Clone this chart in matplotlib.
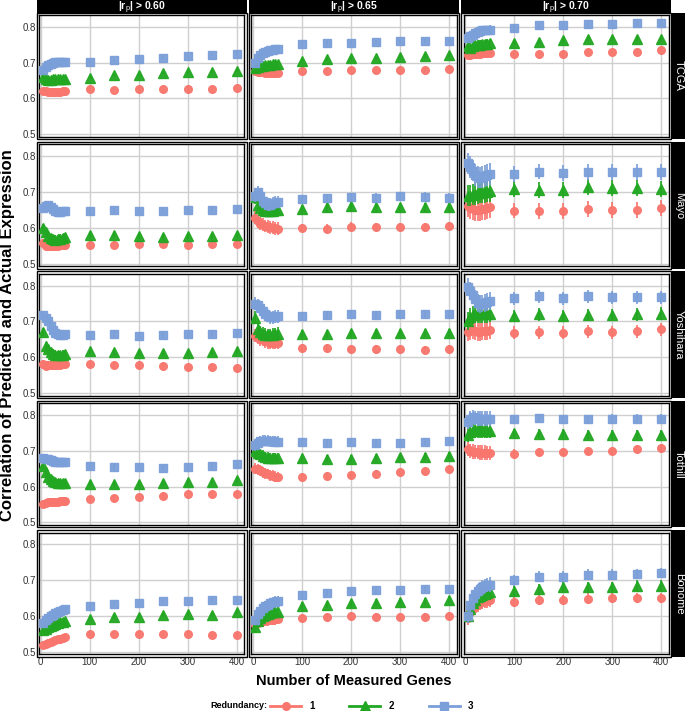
"""
Faceted accuracy plot: correlation of predicted vs actual expression
against number of measured genes, per dataset (rows) and |r_p| cut-off (cols).
"""
import matplotlib
matplotlib.use("Agg")
import matplotlib.pyplot as plt
from matplotlib.lines import Line2D
from matplotlib.patches import Rectangle

plt.rcParams["font.family"] = ["Liberation Sans", "DejaVu Sans"]
plt.rcParams["mathtext.fontset"] = "custom"
plt.rcParams["mathtext.rm"] = "Liberation Sans"
plt.rcParams["mathtext.it"] = "Liberation Sans:italic"
plt.rcParams["mathtext.bf"] = "Liberation Sans:bold"

# ---- data --------------------------------------------------------------------
GENES = [5, 10, 15, 20, 25, 30, 35, 40, 45, 50,
         100, 150, 200, 250, 300, 350, 400]
THRESHOLDS = ["0.60", "0.65", "0.70"]
DATASETS = ["TCGA", "Mayo", "Yoshihara", "Tothill", "Bonome"]
REDUNDANCY = ["1", "2", "3"]

# each threshold -> [redundancy 1, redundancy 2, redundancy 3]
TCGA = {
    "0.60": [[0.622, 0.620, 0.619, 0.619, 0.619, 0.619, 0.619, 0.619, 0.620, 0.620,
              0.625, 0.624, 0.626, 0.626, 0.627, 0.627, 0.628],
             [0.660, 0.655, 0.652, 0.652, 0.653, 0.653, 0.654, 0.655, 0.655, 0.655,
              0.658, 0.664, 0.665, 0.671, 0.673, 0.674, 0.677],
             [0.680, 0.688, 0.693, 0.697, 0.700, 0.702, 0.703, 0.703, 0.703, 0.703,
              0.703, 0.707, 0.711, 0.714, 0.718, 0.722, 0.725]],
    "0.65": [[0.676, 0.675, 0.674, 0.673, 0.672, 0.672, 0.671, 0.671, 0.671, 0.672,
              0.676, 0.676, 0.679, 0.679, 0.679, 0.680, 0.682],
             [0.685, 0.688, 0.690, 0.690, 0.692, 0.693, 0.694, 0.695, 0.696, 0.697,
              0.705, 0.710, 0.712, 0.712, 0.716, 0.718, 0.720],
             [0.700, 0.712, 0.720, 0.726, 0.730, 0.733, 0.735, 0.736, 0.737, 0.738,
              0.751, 0.755, 0.756, 0.757, 0.760, 0.761, 0.761]],
    "0.70": [[0.722, 0.722, 0.724, 0.724, 0.724, 0.725, 0.726, 0.727, 0.727, 0.727,
              0.724, 0.724, 0.725, 0.730, 0.730, 0.731, 0.736],
             [0.745, 0.740, 0.745, 0.748, 0.750, 0.750, 0.752, 0.752, 0.753, 0.754,
              0.756, 0.758, 0.763, 0.766, 0.766, 0.766, 0.767],
             [0.770, 0.775, 0.778, 0.782, 0.785, 0.788, 0.790, 0.790, 0.791, 0.792,
              0.796, 0.805, 0.805, 0.807, 0.808, 0.810, 0.810]],
}
MAYO = {
    "0.60": [[0.557, 0.550, 0.548, 0.548, 0.549, 0.550, 0.550, 0.551, 0.552, 0.553,
              0.552, 0.553, 0.554, 0.554, 0.553, 0.554, 0.555],
             [0.600, 0.588, 0.578, 0.572, 0.568, 0.567, 0.568, 0.570, 0.572, 0.574,
              0.579, 0.580, 0.577, 0.575, 0.577, 0.577, 0.580],
             [0.655, 0.660, 0.663, 0.657, 0.652, 0.648, 0.645, 0.645, 0.646, 0.646,
              0.647, 0.650, 0.647, 0.648, 0.650, 0.651, 0.652]],
    "0.65": [[0.628, 0.618, 0.612, 0.608, 0.605, 0.603, 0.601, 0.600, 0.599, 0.598,
              0.600, 0.598, 0.603, 0.602, 0.602, 0.602, 0.605],
             [0.685, 0.665, 0.655, 0.650, 0.648, 0.647, 0.647, 0.648, 0.649, 0.650,
              0.652, 0.657, 0.660, 0.657, 0.657, 0.657, 0.657],
             [0.690, 0.700, 0.690, 0.675, 0.668, 0.665, 0.665, 0.668, 0.670, 0.672,
              0.680, 0.683, 0.686, 0.684, 0.689, 0.687, 0.684]],
    "0.70": [[0.660, 0.655, 0.652, 0.650, 0.650, 0.650, 0.652, 0.653, 0.655, 0.657,
              0.648, 0.647, 0.647, 0.652, 0.650, 0.650, 0.656],
             [0.690, 0.690, 0.693, 0.695, 0.697, 0.698, 0.700, 0.700, 0.701, 0.702,
              0.708, 0.706, 0.706, 0.713, 0.711, 0.711, 0.709],
             [0.780, 0.770, 0.760, 0.748, 0.742, 0.740, 0.742, 0.745, 0.748, 0.750,
              0.750, 0.757, 0.754, 0.755, 0.755, 0.755, 0.755]],
}
YOSHIHARA = {
    "0.60": [[0.580, 0.576, 0.578, 0.577, 0.578, 0.577, 0.578, 0.579, 0.580, 0.581,
              0.580, 0.578, 0.577, 0.575, 0.573, 0.572, 0.570],
             [0.670, 0.630, 0.622, 0.615, 0.610, 0.607, 0.606, 0.606, 0.607, 0.608,
              0.618, 0.615, 0.612, 0.612, 0.612, 0.615, 0.617],
             [0.718, 0.710, 0.700, 0.688, 0.676, 0.668, 0.665, 0.663, 0.663, 0.665,
              0.661, 0.664, 0.660, 0.662, 0.665, 0.665, 0.668]],
    "0.65": [[0.660, 0.655, 0.650, 0.648, 0.645, 0.642, 0.640, 0.640, 0.640, 0.640,
              0.625, 0.625, 0.622, 0.622, 0.622, 0.620, 0.622],
             [0.710, 0.680, 0.670, 0.665, 0.663, 0.662, 0.662, 0.663, 0.664, 0.665,
              0.665, 0.665, 0.668, 0.668, 0.668, 0.668, 0.668],
             [0.750, 0.745, 0.738, 0.728, 0.720, 0.715, 0.712, 0.712, 0.713, 0.714,
              0.715, 0.718, 0.720, 0.718, 0.720, 0.720, 0.720]],
    "0.70": [[0.670, 0.672, 0.675, 0.672, 0.670, 0.670, 0.672, 0.673, 0.674, 0.675,
              0.668, 0.670, 0.668, 0.672, 0.670, 0.672, 0.678],
             [0.700, 0.712, 0.718, 0.720, 0.720, 0.720, 0.720, 0.720, 0.721, 0.722,
              0.715, 0.720, 0.715, 0.718, 0.718, 0.720, 0.722],
             [0.795, 0.785, 0.775, 0.762, 0.752, 0.748, 0.750, 0.752, 0.755, 0.757,
              0.765, 0.770, 0.765, 0.770, 0.768, 0.768, 0.767]],
}
TOTHILL = {
    "0.60": [[0.552, 0.555, 0.556, 0.557, 0.557, 0.558, 0.558, 0.559, 0.560, 0.560,
              0.565, 0.568, 0.572, 0.575, 0.578, 0.580, 0.580],
             [0.658, 0.640, 0.628, 0.620, 0.615, 0.612, 0.610, 0.610, 0.610, 0.610,
              0.607, 0.608, 0.607, 0.610, 0.612, 0.613, 0.618],
             [0.680, 0.678, 0.676, 0.674, 0.672, 0.670, 0.670, 0.670, 0.670, 0.670,
              0.658, 0.655, 0.655, 0.652, 0.655, 0.657, 0.662]],
    "0.65": [[0.650, 0.648, 0.645, 0.640, 0.637, 0.635, 0.632, 0.630, 0.628, 0.627,
              0.628, 0.630, 0.632, 0.636, 0.640, 0.643, 0.648],
             [0.700, 0.695, 0.690, 0.686, 0.683, 0.681, 0.680, 0.680, 0.680, 0.680,
              0.680, 0.678, 0.678, 0.680, 0.682, 0.683, 0.686],
             [0.715, 0.722, 0.726, 0.728, 0.728, 0.728, 0.727, 0.726, 0.725, 0.725,
              0.725, 0.722, 0.725, 0.722, 0.723, 0.725, 0.728]],
    "0.70": [[0.705, 0.700, 0.698, 0.697, 0.696, 0.695, 0.695, 0.695, 0.694, 0.694,
              0.692, 0.697, 0.697, 0.700, 0.700, 0.705, 0.707],
             [0.745, 0.752, 0.755, 0.757, 0.757, 0.757, 0.757, 0.756, 0.756, 0.756,
              0.750, 0.748, 0.748, 0.745, 0.745, 0.745, 0.745],
             [0.780, 0.790, 0.795, 0.792, 0.790, 0.790, 0.790, 0.790, 0.790, 0.790,
              0.789, 0.791, 0.789, 0.788, 0.790, 0.790, 0.790]],
}
BONOME = {
    "0.60": [[0.520, 0.522, 0.525, 0.528, 0.531, 0.533, 0.535, 0.537, 0.539, 0.541,
              0.551, 0.550, 0.550, 0.550, 0.550, 0.547, 0.547],
             [0.560, 0.565, 0.570, 0.573, 0.576, 0.578, 0.580, 0.582, 0.584, 0.585,
              0.593, 0.598, 0.598, 0.604, 0.606, 0.604, 0.612],
             [0.580, 0.588, 0.595, 0.600, 0.604, 0.608, 0.612, 0.615, 0.617, 0.619,
              0.628, 0.634, 0.637, 0.642, 0.642, 0.646, 0.646]],
    "0.65": [[0.575, 0.580, 0.583, 0.585, 0.587, 0.588, 0.589, 0.590, 0.591, 0.592,
              0.595, 0.597, 0.600, 0.598, 0.598, 0.598, 0.600],
             [0.570, 0.585, 0.595, 0.600, 0.603, 0.606, 0.608, 0.610, 0.611, 0.612,
              0.628, 0.632, 0.635, 0.637, 0.640, 0.640, 0.645],
             [0.590, 0.605, 0.615, 0.622, 0.628, 0.632, 0.635, 0.638, 0.640, 0.642,
              0.660, 0.665, 0.670, 0.672, 0.672, 0.675, 0.675]],
    "0.70": [[0.595, 0.610, 0.620, 0.627, 0.632, 0.636, 0.639, 0.641, 0.643, 0.645,
              0.640, 0.645, 0.645, 0.648, 0.650, 0.650, 0.650],
             [0.600, 0.620, 0.635, 0.645, 0.652, 0.657, 0.660, 0.662, 0.664, 0.666,
              0.670, 0.675, 0.680, 0.680, 0.680, 0.685, 0.685],
             [0.600, 0.630, 0.650, 0.662, 0.670, 0.675, 0.680, 0.683, 0.686, 0.688,
              0.700, 0.710, 0.710, 0.715, 0.715, 0.717, 0.720]],
}
# error-bar half widths per threshold: (genes <= 50, genes >= 100)
ERR = {
    "TCGA": [(0.006, 0.004), (0.008, 0.005), (0.012, 0.007)],
    "Mayo": [(0.012, 0.008), (0.018, 0.012), (0.030, 0.022)],
    "Yoshihara": [(0.012, 0.008), (0.018, 0.012), (0.025, 0.018)],
    "Tothill": [(0.010, 0.008), (0.015, 0.010), (0.020, 0.012)],
    "Bonome": [(0.010, 0.006), (0.015, 0.010), (0.020, 0.015)],
}
ALL = {"TCGA": TCGA, "Mayo": MAYO, "Yoshihara": YOSHIHARA,
       "Tothill": TOTHILL, "Bonome": BONOME}

COLORS = ["#F8766D", "#22A722", "#7B9FD9"]
MARKERS = ["o", "^", "s"]
MSIZES = [5.5, 6.5, 5.5]

# ---- layout (pixels) ------------------------------------------------------------
W, H = 685, 711
AX_L, AX_DX, AX_W = 39.0, 212.3, 205.3
AX_T, AX_DY, AX_H = 15.0, 129.4, 121.7
OUT = 2.5   # gap of the outer frame line


def fbox(left, top, w, h):
    return [left / W, 1 - (top + h) / H, w / W, h / H]


fig = plt.figure(figsize=(W / 100, H / 100), dpi=100)

for r, ds in enumerate(DATASETS):
    for c, th in enumerate(THRESHOLDS):
        left = AX_L + AX_DX * c
        top = AX_T + AX_DY * r
        ax = fig.add_axes(fbox(left, top, AX_W, AX_H))
        ax.set_xlim(-3.5, 415.5)
        ax.set_ylim(0.493, 0.833)
        ax.set_xticks([0, 100, 200, 300, 400])
        ax.set_yticks([0.5, 0.6, 0.7, 0.8])
        ax.set_yticklabels(["0.5", "0.6", "0.7", "0.8"])
        ax.grid(True, color="#cfcfcf", linewidth=1.0, zorder=0)
        ax.set_axisbelow(True)
        for s in ax.spines.values():
            s.set_color("black")
            s.set_linewidth(1.0)
        ax.tick_params(length=0, labelsize=7, colors="#333333", pad=2)
        if r != len(DATASETS) - 1:
            ax.tick_params(labelbottom=False)
        if c != 0:
            ax.tick_params(labelleft=False)

        cl, pl = ERR[ds][c]
        yerr = [cl] * 10 + [pl] * 7
        for k in range(3):
            ax.errorbar(GENES, ALL[ds][th][k], yerr=yerr, fmt=MARKERS[k],
                        color=COLORS[k], mec=COLORS[k], ms=MSIZES[k],
                        elinewidth=1.3, capsize=0, alpha=0.95, zorder=3 + k)

        # outer frame line (double border look)
        fig.add_artist(Rectangle(((left - OUT) / W, 1 - (top + AX_H + OUT) / H),
                                 (AX_W + 2 * OUT) / W, (AX_H + 2 * OUT) / H,
                                 fill=False, ec="black", lw=1.0,
                                 transform=fig.transFigure))

        # column strip
        if r == 0:
            fig.add_artist(Rectangle(((left - OUT) / W, 1 - 13.5 / H),
                                     (AX_W + 2 * OUT) / W, 13.5 / H,
                                     fc="black", ec="none",
                                     transform=fig.transFigure))
            fig.text((left + AX_W / 2) / W, 1 - 10.5 / H,
                     r"|r$_\mathrm{p}$| > " + th, color="white",
                     fontsize=7.5, fontweight="bold", ha="center", va="baseline")
        # row strip
        if c == len(THRESHOLDS) - 1:
            sx = left + AX_W + OUT + 1
            fig.add_artist(Rectangle((sx / W, 1 - (top + AX_H + OUT) / H),
                                     (W - sx) / W, (AX_H + 2 * OUT) / H,
                                     fc="black", ec="none",
                                     transform=fig.transFigure))
            fig.text((sx + (W - sx) / 2) / W, 1 - (top + AX_H / 2) / H, ds,
                     color="white", fontsize=8, rotation=-90,
                     ha="center", va="center")

fig.text(8 / W, 1 - 335 / H, "Correlation of Predicted and Actual Expression",
         rotation=90, fontsize=12, fontweight="bold", ha="center", va="center")
fig.text(354 / W, 1 - 681 / H, "Number of Measured Genes",
         fontsize=10.5, fontweight="bold", ha="center", va="center")

handles = [Line2D([], [], color=COLORS[k], marker=MARKERS[k], ms=MSIZES[k], lw=2)
           for k in range(3)]
fig.legend(handles, REDUNDANCY, loc="center left",
           bbox_to_anchor=(270 / W, 1 - 706 / H), ncol=3, frameon=False,
           handlelength=3.2, handletextpad=0.8, columnspacing=3.6,
           borderpad=0, borderaxespad=0,
           prop={"size": 7, "weight": "bold"})
fig.text(267 / W, 1 - 706 / H, "Redundancy:", fontsize=6.5, fontweight="bold",
         ha="right", va="center")

fig.savefig("out.png", dpi=100)
